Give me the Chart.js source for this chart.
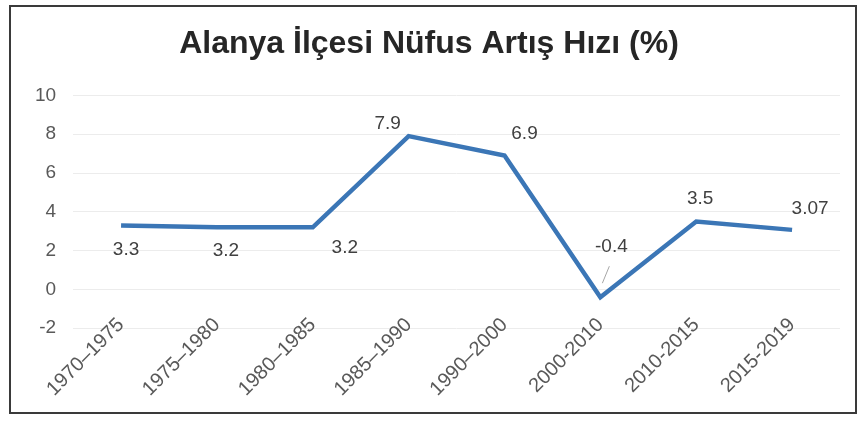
<!DOCTYPE html>
<html>
<head>
<meta charset="utf-8">
<script src="https://cdn.jsdelivr.net/npm/chart.js@4.4.1/dist/chart.umd.min.js"></script>
<style>
  html, body { margin: 0; padding: 0; background: #fff; }
  #wrap { width: 860px; height: 423px; }
</style>
</head>
<body>
<div id="wrap"><canvas id="growthChart" width="860" height="423"></canvas></div>
<script>
const periods = ['1970–1975', '1975–1980', '1980–1985', '1985–1990', '1990–2000', '2000-2010', '2010-2015', '2015-2019'];
const growthRate = [3.3, 3.2, 3.2, 7.9, 6.9, -0.4, 3.5, 3.07];
const rateLabels = ['3.3', '3.2', '3.2', '7.9', '6.9', '-0.4', '3.5', '3.07'];

// label placement around each point, like the original Excel chart
const labelOffsets = [[5, 24], [9, 23], [32, 20], [-21, -12], [20, -22], [11, -50], [4, -23], [18, -21]];

const valueLabels = {
    id: 'valueLabels',
    afterDatasetsDraw(chart) {
        const ctx = chart.ctx;
        const meta = chart.getDatasetMeta(0);
        ctx.save();
        ctx.font = '19px "Liberation Sans", Arial, sans-serif';
        ctx.fillStyle = '#404040';
        ctx.textAlign = 'center';
        ctx.textBaseline = 'middle';
        meta.data.forEach(function (pt, i) {
            const off = labelOffsets[i];
            ctx.fillText(rateLabels[i], pt.x + off[0], pt.y + off[1]);
        });
        // leader line for the -0.4 label
        const p = meta.data[5];
        ctx.strokeStyle = '#a6a6a6';
        ctx.lineWidth = 1;
        ctx.beginPath();
        ctx.moveTo(p.x + 9, p.y - 31);
        ctx.lineTo(p.x + 2, p.y - 14);
        ctx.stroke();
        ctx.restore();
    },
    afterDraw(chart) {
        const ctx = chart.ctx;
        ctx.save();
        ctx.strokeStyle = '#3a3a3a';
        ctx.lineWidth = 2;
        ctx.strokeRect(10, 6, 846, 407);
        ctx.restore();
    }
};

const ctx1 = document.getElementById('growthChart').getContext('2d');
const growthChart = new Chart(ctx1, {
    type: 'line',
    data: {
        labels: periods,
        datasets: [{
            label: 'Nüfus Artış Hızı',
            data: growthRate,
            borderColor: '#3b76b6',
            borderWidth: 4.5,
            pointRadius: 0,
            tension: 0,
            fill: false
        }]
    },
    plugins: [valueLabels],
    options: {
        responsive: false,
        animation: false,
        events: [],
        layout: {
            padding: { left: 18, right: 20, top: 0, bottom: 37 }
        },
        scales: {
            x: {
                offset: true,
                grid: { display: false, drawTicks: false },
                border: { display: false },
                ticks: {
                    color: '#595959',
                    font: { family: '"Liberation Sans", Arial, sans-serif', size: 20 },
                    minRotation: 45,
                    maxRotation: 45,
                    padding: -15
                },
                // rotated labels should not push the plot area right,
                // and they sit a bit above the axis box, so no clipping
                afterFit(scale) {
                    scale.paddingLeft = 0;
                    scale.paddingRight = 0;
                    scale._computeLabelArea = function () { return undefined; };
                }
            },
            y: {
                min: -2,
                max: 10,
                grid: { color: '#ececec', drawTicks: false },
                border: { display: false },
                ticks: {
                    stepSize: 2,
                    color: '#595959',
                    font: { family: '"Liberation Sans", Arial, sans-serif', size: 19 },
                    padding: 17
                }
            }
        },
        plugins: {
            legend: { display: false },
            tooltip: { enabled: false },
            title: {
                display: true,
                text: 'Alanya İlçesi Nüfus Artış Hızı (%)',
                color: '#262626',
                font: { family: '"Liberation Sans", Arial, sans-serif', size: 32, weight: 'bold' },
                padding: { top: 25, bottom: 32 }
            }
        }
    }
});
</script>
</body>
</html>
